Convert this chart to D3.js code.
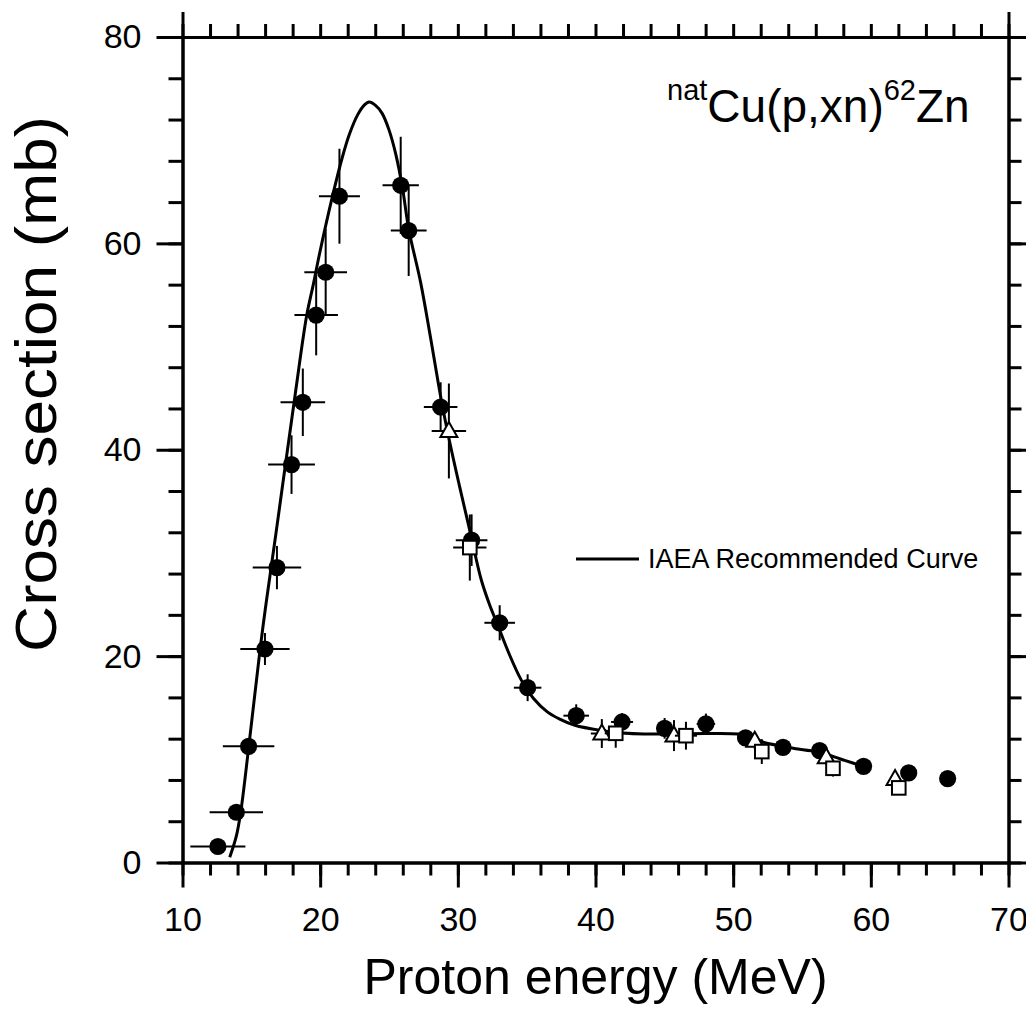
<!DOCTYPE html>
<html><head><meta charset="utf-8">
<script src="https://cdn.jsdelivr.net/npm/d3@7"></script>
<style>
body{margin:0;background:#fff;}
svg{display:block;font-family:"Liberation Sans",Arial,sans-serif;}
</style></head><body>
<svg id="chart" width="1026" height="1010"></svg>
<script>
// ---- data ----
const xMajorTicks = [10,20,30,40,50,60,70];
const yMajorTicks = [0,20,40,60,80];

// IAEA recommended curve
const curveE = [13.43,13.9,14.22,14.82,15.64,16.07,16.8,17.46,18.2,19.02,19.5,19.94,20.9,21.6,22.13,22.74,23.2,23.55,24.0,24.5,25.0,25.5,26.0,26.43,27.3,28.0,28.8,29.4,30.1,30.9,31.7,32.3,32.9,33.7,34.6,35.5,36.5,37.4,38.5,40.4,42.0,43.5,45.2,48.0,50.4,51.3,52.3,53.5,54.7,55.9,56.3,57.0,58.1,59.5];
const curveS = [0.5,2.5,4.8,11.3,20.7,25.1,32.0,38.4,45.5,53.0,56.0,58.9,64.6,68.3,70.6,72.5,73.4,73.7,73.4,72.6,71.0,68.6,65.2,61.4,56.2,51.0,44.8,40.8,36.6,32.0,27.4,25.0,23.0,20.3,17.7,15.9,14.6,13.9,13.3,12.8,12.55,12.45,12.45,12.5,12.45,12.2,11.6,11.3,11.0,10.8,10.8,10.4,9.9,9.3];

// filled circles
const circE    = [12.57,13.91,14.8,15.99,16.86,17.92,18.74,19.71,20.4,21.4,25.85,26.43,28.75,31.0,33.04,35.07,38.6,41.93,45.02,48.02,50.9,53.62,56.28,59.47,62.75,65.58];
const circS    = [1.55,4.87,11.26,20.69,28.58,38.56,44.6,53.05,57.2,64.57,65.63,61.24,44.14,31.24,23.23,16.94,14.23,13.62,13.0,13.43,12.07,11.16,10.84,9.32,8.68,8.13];
const circEErr = [2.0,1.94,1.87,1.79,1.76,1.70,1.62,1.58,1.55,1.49,1.32,1.30,1.22,1.15,1.11,1.0,0.93,0.8,0.58,0.67,0.4,0.3,0.2,0,0,0];
const circSErr = [0,0.3,0.8,1.55,2.1,2.84,3.27,3.9,4.2,4.6,4.7,4.4,2.4,2.5,1.7,1.3,1.1,0.85,1.0,1.0,0.6,0.5,0.4,0,0,0];

// open triangles
const triE    = [29.35,40.46,45.7,51.57,56.76,61.76];
const triS    = [41.82,12.5,12.3,11.8,10.2,8.1];
const triEErr = [1.25,0.8,0.8,0.5,0.4,0.3];
const triSErr = [4.6,1.4,1.5,0.8,0.5,0.3];

// open squares
const sqE    = [30.87,41.47,46.57,52.08,57.25,62.03];
const sqS    = [30.52,12.52,12.29,10.75,9.13,7.23];
const sqEErr = [1.21,0.8,0.8,0.5,0.3,0.3];
const sqSErr = [3.2,1.4,1.35,1.2,0.8,0.4];

// ---- chart ----
const svg = d3.select('#chart');
const x = d3.scaleLinear().domain([10,70]).range([182.5,1008.5]);
const y = d3.scaleLinear().domain([0,80]).range([862.5,37]);

function styleAxis(g){
  g.select('.domain').attr('stroke','#000').attr('stroke-width',3);
  g.selectAll('.tick line').attr('stroke','#000').attr('stroke-width',3);
  g.selectAll('.tick text').attr('font-size',34).attr('fill','#000')
   .attr('font-family','"Liberation Sans",Arial,sans-serif');
}
const xMinor = d3.range(10,71,2);
const yMinor = d3.range(0,81,4);

// bottom
styleAxis(svg.append('g').attr('transform','translate(0,862.5)')
  .call(d3.axisBottom(x).tickValues(xMinor).tickSize(13).tickSizeOuter(0).tickFormat('')));
styleAxis(svg.append('g').attr('transform','translate(0,862.5)')
  .call(d3.axisBottom(x).tickValues(xMajorTicks).tickSize(25).tickSizeOuter(0).tickPadding(19).tickFormat(d3.format('d'))));
// top
styleAxis(svg.append('g').attr('transform','translate(0,37)')
  .call(d3.axisTop(x).tickValues(xMinor).tickSize(13).tickSizeOuter(0).tickFormat('')));
styleAxis(svg.append('g').attr('transform','translate(0,37)')
  .call(d3.axisTop(x).tickValues([10,70]).tickSize(25).tickSizeOuter(0).tickFormat('')));
// left
styleAxis(svg.append('g').attr('transform','translate(182.5,0)')
  .call(d3.axisLeft(y).tickValues(yMinor).tickSize(14).tickSizeOuter(0).tickFormat('')));
styleAxis(svg.append('g').attr('transform','translate(182.5,0)')
  .call(d3.axisLeft(y).tickValues(yMajorTicks).tickSize(26).tickSizeOuter(0).tickPadding(15).tickFormat(d3.format('d'))));
// right
styleAxis(svg.append('g').attr('transform','translate(1008.5,0)')
  .call(d3.axisRight(y).tickValues(yMinor).tickSize(13).tickSizeOuter(0).tickFormat('')));
styleAxis(svg.append('g').attr('transform','translate(1008.5,0)')
  .call(d3.axisRight(y).tickValues(yMajorTicks).tickSize(26).tickSizeOuter(0).tickFormat('')));

// curve
const curvePts = curveE.map((e,i)=>[e,curveS[i]]);
svg.append('path').datum(curvePts)
  .attr('fill','none').attr('stroke','#000').attr('stroke-width',3)
  .attr('stroke-linejoin','round')
  .attr('d', d3.line().x(d=>x(d[0])).y(d=>y(d[1])).curve(d3.curveCatmullRom.alpha(0.5)));

function series(E,S,EE,SE,shape){
  const data = E.map((e,i)=>({e, s:S[i], ee:EE[i], se:SE[i]}));
  const g = svg.append('g');
  const eb = g.append('g').attr('stroke','#000').attr('stroke-width',2);
  data.forEach(d=>{
    if(d.ee>0) eb.append('line').attr('x1',x(d.e-d.ee)).attr('x2',x(d.e+d.ee)).attr('y1',y(d.s)).attr('y2',y(d.s));
    if(d.se>0) eb.append('line').attr('x1',x(d.e)).attr('x2',x(d.e)).attr('y1',y(d.s-d.se)).attr('y2',y(d.s+d.se));
  });
  const m = g.append('g');
  data.forEach(d=>{
    const cx=x(d.e), cy=y(d.s);
    if(shape==='circle'){
      m.append('circle').attr('cx',cx).attr('cy',cy).attr('r',8.6).attr('fill','#000');
    } else if(shape==='triangle'){
      const w=8.5, h=15;
      m.append('path').attr('d',`M${cx},${cy-h*0.6}L${cx+w},${cy+h*0.4}L${cx-w},${cy+h*0.4}Z`)
       .attr('fill','#fff').attr('stroke','#000').attr('stroke-width',2);
    } else {
      const s=6.8;
      m.append('rect').attr('x',cx-s).attr('y',cy-s).attr('width',2*s).attr('height',2*s)
       .attr('fill','#fff').attr('stroke','#000').attr('stroke-width',2);
    }
  });
}
series(circE,circS,circEErr,circSErr,'circle');
series(triE,triS,triEErr,triSErr,'triangle');
series(sqE,sqS,sqEErr,sqSErr,'square');

// legend
svg.append('line').attr('x1',576).attr('x2',639).attr('y1',559).attr('y2',559)
  .attr('stroke','#000').attr('stroke-width',3);
svg.append('text').attr('x',648).attr('y',568).attr('font-size',27).text('IAEA Recommended Curve');

// reaction label
const t = svg.append('text').attr('x',667).attr('y',122).attr('fill','#000');
t.append('tspan').attr('font-size',29).attr('dy',-22).text('nat');
t.append('tspan').attr('font-size',46).attr('dy',22).text('Cu(p,xn)');
t.append('tspan').attr('font-size',29).attr('dy',-22).text('62');
t.append('tspan').attr('font-size',46).attr('dy',22).text('Zn');

// axis titles
svg.append('text').attr('x',595.5).attr('y',994).attr('text-anchor','middle')
  .attr('font-size',50).text('Proton energy (MeV)');
svg.append('text').attr('transform','translate(56,384) rotate(-90)')
  .attr('text-anchor','middle').attr('font-size',57)
  .attr('textLength',536).attr('lengthAdjust','spacingAndGlyphs')
  .text('Cross section (mb)');
</script>
</body></html>
